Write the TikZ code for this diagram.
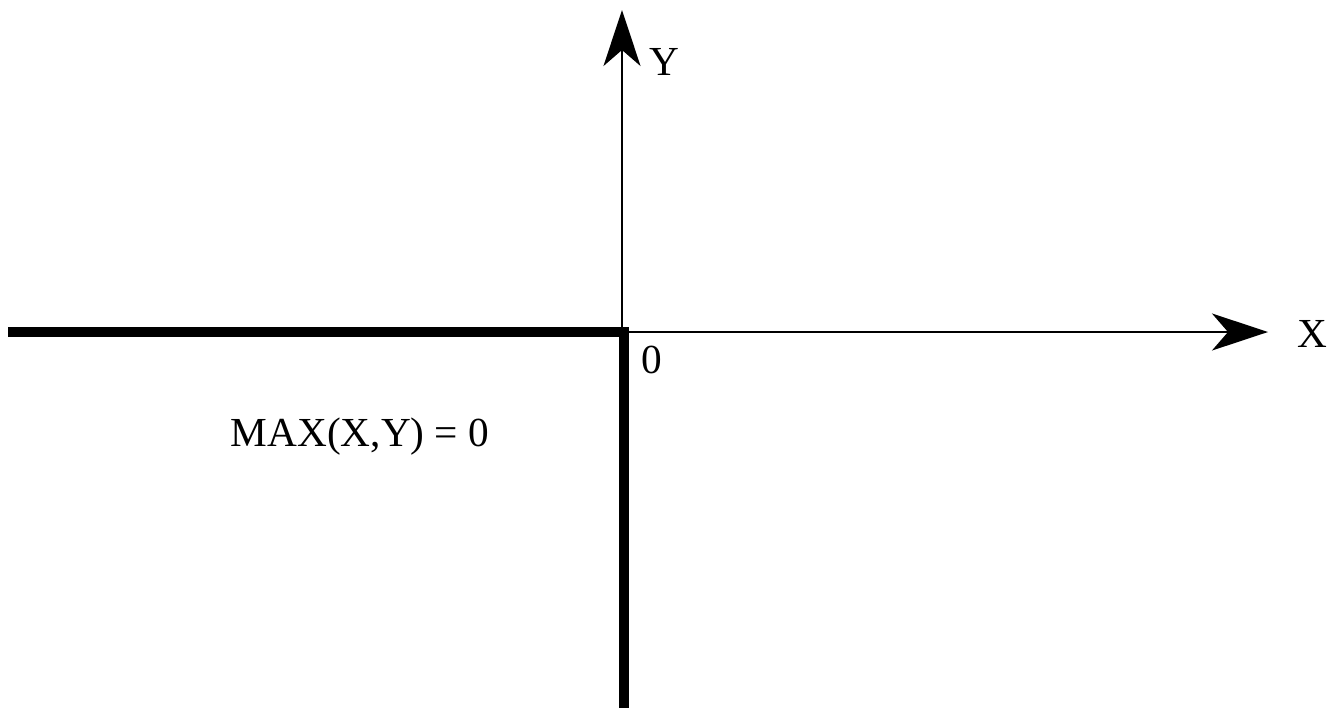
\documentclass[tikz,border=0pt]{standalone}
\usepackage{fontspec}
\setmainfont{Liberation Serif}
\usepackage{tikz}
\usetikzlibrary{arrows.meta,positioning,calc}

\begin{document}
\begin{tikzpicture}[
      x=0.02cm, y=-0.02cm,
      every node/.style={font=\fontsize{23.5}{28}\selectfont, inner sep=0pt},
      axis/.style={draw, line width=1.1pt,
        -{Stealth[length=1.12cm, width=0.74cm, inset=0.32cm]}},
      border/.style={draw, line width=6pt, line cap=butt, line join=miter}
    ]
    \useasboundingbox (0,0) rectangle (1333,708);

    % PUNTOS
    \coordinate (O) at (622,332);
    \coordinate (xend) at (1268,332);
    \coordinate (yend) at (622,10);
    \coordinate (left) at (8,332);
    \coordinate (corner) at (624,332);
    \coordinate (down) at (624,708);

    % ETIQUETAS
    \node (xlbl) at (1312,334) {X};
    \node (ylbl) at (664,62) {Y};
    \node (zero) at (652,360) {0};
    \node (maxlbl) at (360,437) {MAX(X,Y) = 0};

    % EJES
    \draw[axis] (O) -- (xend);
    \draw[axis] (O) -- (yend);
    \draw[border] (left) -- (corner) -- (down);
\end{tikzpicture}
\end{document}
